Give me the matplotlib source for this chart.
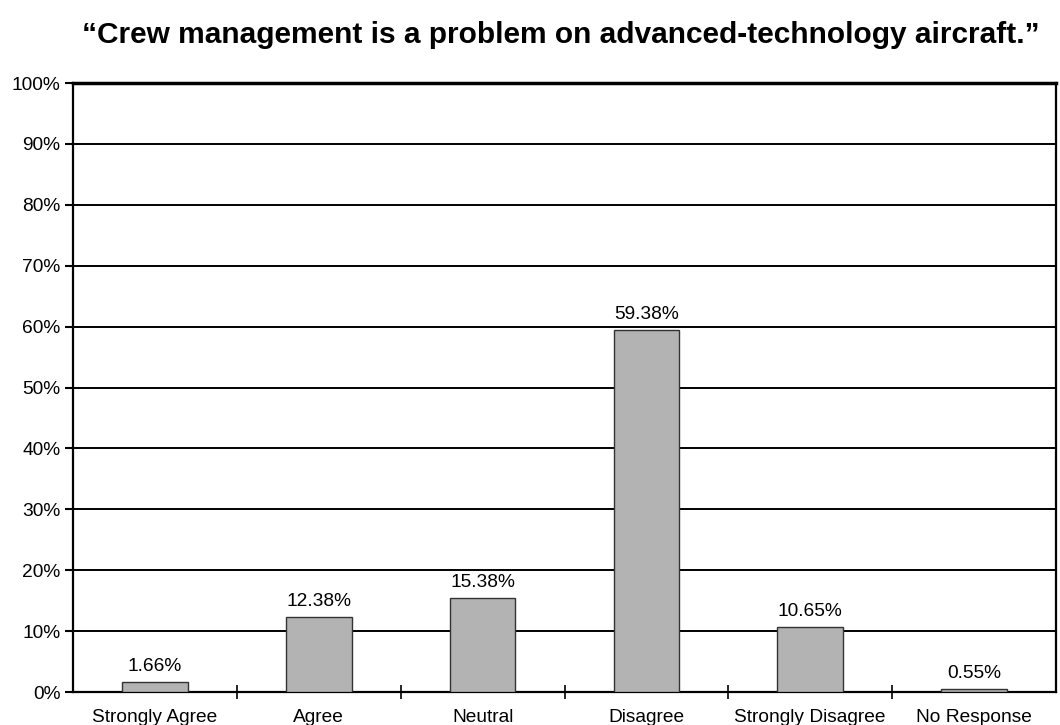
import matplotlib
matplotlib.use("Agg")
import matplotlib.pyplot as plt
from matplotlib.ticker import FuncFormatter

categories = ["Strongly Agree", "Agree", "Neutral", "Disagree",
              "Strongly Disagree", "No Response"]
percentages = [1.66, 12.38, 15.38, 59.38, 10.65, 0.55]
y_ticks = list(range(0, 101, 10))

plt.rcParams["font.family"] = ["Liberation Sans", "DejaVu Sans"]

fig = plt.figure(figsize=(10.6, 7.25), dpi=100)
ax = fig.add_axes([0.0689, 0.0455, 0.9273, 0.84])

x = range(len(categories))
ax.bar(x, percentages, width=0.40, color="#b3b3b3", edgecolor="#333333",
       linewidth=1.0, zorder=3)

for xi, val in zip(x, percentages):
    ax.annotate(f"{val:.2f}%", (xi, val), xytext=(0, 5),
                textcoords="offset points", ha="center", va="bottom",
                fontsize=13.8, zorder=4)

ax.set_xlim(-0.5, len(categories) - 0.5)
ax.set_ylim(0, 100)
ax.set_yticks(y_ticks)
ax.yaxis.set_major_formatter(FuncFormatter(lambda v, _: f"{v:.0f}%"))
ax.tick_params(axis="y", labelsize=13.8, length=6, width=1.5, pad=3)

# category labels sit centred under each bar, tick marks at the boundaries
ax.set_xticks([i + 0.5 for i in range(len(categories) - 1)])
ax.set_xticklabels([])
ax.set_xticks(list(x), minor=True)
ax.set_xticklabels(categories, minor=True, fontsize=13.8)
ax.tick_params(axis="x", which="major", direction="inout", length=10, width=1.2)
ax.tick_params(axis="x", which="minor", length=0, pad=12)

ax.yaxis.grid(True, color="black", linewidth=1.4, zorder=0)
ax.set_axisbelow(True)
for side in ["left", "bottom", "right"]:
    ax.spines[side].set_linewidth(1.6)
ax.spines["top"].set_linewidth(2.5)

fig.text(0.529, 1 - 35 / 725,
         "\u201cCrew management is a problem on advanced-technology aircraft.\u201d",
         ha="center", va="center", fontsize=21.5, fontweight="bold")

fig.savefig("out.png", dpi=100)
